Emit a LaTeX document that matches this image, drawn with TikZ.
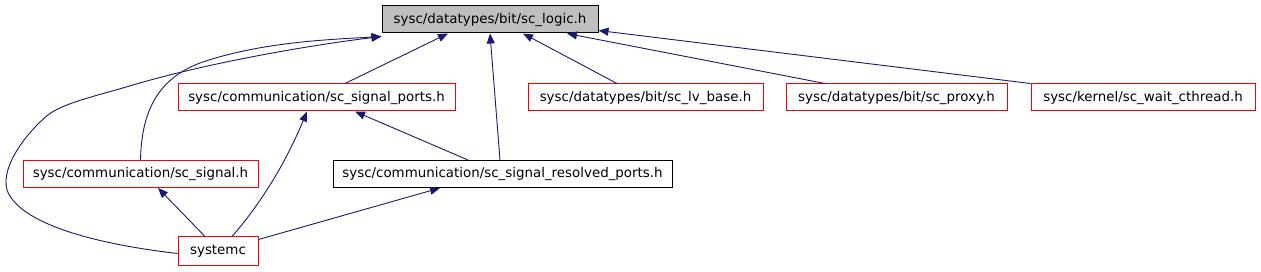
\documentclass[tikz,border=0pt]{standalone}
\usepackage{fontspec}
\setmainfont{DejaVu Sans}
\usetikzlibrary{arrows.meta}
\definecolor{edgeblue}{RGB}{25,25,112}
\definecolor{boxred}{RGB}{255,0,0}
\definecolor{boxgray}{RGB}{191,191,191}
\tikzset{
  x=1pt,y=-1pt,
  file/.style={draw=boxred,fill=white,line width=1pt,minimum height=27pt,inner sep=0pt,font=\fontsize{13.4}{15}\selectfont},
  plain/.style={file,draw=black},
  root/.style={file,draw=black,fill=boxgray},
  edge/.style={draw=edgeblue,line width=0.9pt,-{Triangle[length=10pt,width=8pt]}}
}
\begin{document}
\begin{tikzpicture}
\useasboundingbox (0,0) rectangle (1261,272);
\node[root,minimum width=216pt] (logic) at (490,19.5) {sysc/datatypes/bit/sc\_logic.h};
\node[file,minimum width=277pt] (ports) at (316.5,97.5) {sysc/communication/sc\_signal\_ports.h};
\node[file,minimum width=235pt] (lvbase) at (645.5,97.5) {sysc/datatypes/bit/sc\_lv\_base.h};
\node[file,minimum width=221pt] (proxy) at (896.5,97.5) {sysc/datatypes/bit/sc\_proxy.h};
\node[file,minimum width=224pt] (wait) at (1143,97.5) {sysc/kernel/sc\_wait\_cthread.h};
\node[file,minimum width=235pt] (signal) at (140.5,174) {sysc/communication/sc\_signal.h};
\node[plain,minimum width=339pt] (resolved) at (502.5,174) {sysc/communication/sc\_signal\_resolved\_ports.h};
\node[file,minimum width=80pt,minimum height=29pt] (systemc) at (218,251.5) {systemc};

\coordinate (j1) at (200,63);
\coordinate (l1) at (7,190);
\coordinate (l2) at (48,115);
\coordinate (l3) at (133,85);

\draw[edge] ([xshift=28.5pt]ports.north) -- ([xshift=-42pt]logic.south);
\draw[edge] ([xshift=-2.5pt]resolved.north) -- (logic.south);
\draw[edge] ([xshift=-28.5pt]lvbase.north) -- ([xshift=33pt]logic.south);
\draw[edge] ([xshift=-71.5pt]proxy.north) -- ([xshift=77pt]logic.south);
\draw[edge] (wait.north west) -- ([yshift=3pt]logic.south east);
\draw[edge] (signal.north) .. controls +(1,-45) and +(-45,17) .. (j1)
  .. controls +(60,-21) and +(-52,3) .. ([yshift=-3pt]logic.south west);
\draw[edge] ([yshift=-2pt]systemc.west) .. controls +(-78,-9) and +(13,35) .. (l1)
  .. controls +(-7,-25) and +(-18,14.4) .. (l2)
  .. controls +(15,-12) and +(-35,10.5) .. (l3)
  .. controls +(67,-20) and +(-82,10) .. ([yshift=-3pt]logic.south west);
\draw[edge] ([xshift=-13pt]systemc.north) -- ([xshift=17.5pt]signal.south);
\draw[edge] ([xshift=14pt]systemc.north) .. controls +(28,-32) and +(-22,53) .. ([xshift=-9.5pt]ports.south);
\draw[edge] ([yshift=-3pt]systemc.north east) -- ([xshift=-62.5pt]resolved.south);
\draw[edge] ([xshift=-34.5pt]resolved.north) -- ([xshift=38.5pt]ports.south);
\end{tikzpicture}
\end{document}
